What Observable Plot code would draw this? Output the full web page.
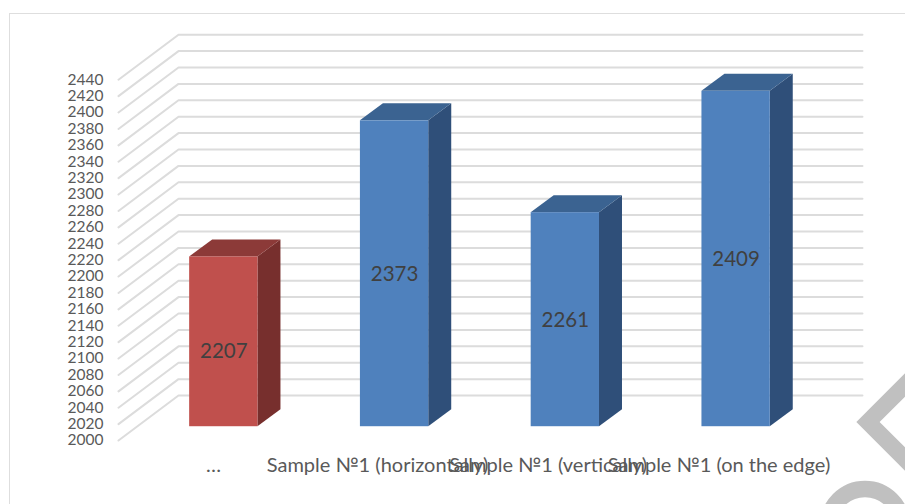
<!DOCTYPE html>
<html>
<head>
<meta charset="utf-8">
<script src="https://cdn.jsdelivr.net/npm/d3@7"></script>
<script src="https://cdn.jsdelivr.net/npm/@observablehq/plot@0.6"></script>
<style>
html,body{margin:0;padding:0;background:#fff;width:905px;height:504px;overflow:hidden}
#wrap{position:relative;width:905px;height:504px;overflow:hidden}
#frame{position:absolute;left:9px;top:13px;width:1000px;height:600px;border:1.5px solid #dedede}
#chart{position:absolute;left:0;top:0}
#chart svg{background:transparent}
#mark{position:absolute;left:0;top:0}
</style>
</head>
<body>
<div id="wrap">
<div id="frame"></div>
<div id="chart"></div>
<svg id="mark" width="905" height="504" fill="none" stroke="#c0c0c0" stroke-width="16.5">
  <polyline points="928,362 868,422 928,482" stroke-linejoin="miter"/>
  <circle cx="865" cy="526" r="37"/>
</svg>
</div>
<script>
const categories = ["…", "Sample №1 (horizontally)", "Sample №1 (vertically)", "Sample №1 (on the edge)"];
const values = [2207, 2373, 2261, 2409];
const barColors = ["#c0504d", "#4f81bd", "#4f81bd", "#4f81bd"];
const sideColors = ["#772f2d", "#2f4f79", "#2f4f79", "#2f4f79"];
const topColors = ["#8c3a38", "#3b6391", "#3b6391", "#3b6391"];
const labelValues = [2093, 2187, 2131, 2205];
const categoryLabelPositions = [-0.06, 0.9, 1.9, 2.9];
const yTicks = [2000,2020,2040,2060,2080,2100,2120,2140,2160,2180,2200,2220,2240,2260,2280,2300,2320,2340,2360,2380,2400,2420,2440];

// 3D box geometry in scale units
const half = 0.2, depthX = 0.1347, depthY = 20.7;
const wallFrontX = -0.6167, wallBackX = -0.2653, wallEndX = 3.74;
const wallFrontDY = -15.9, wallBackDY = 39;
const base = 2000;

const gridData = yTicks.flatMap(v => [
  {v, x: wallFrontX, y: v + wallFrontDY},
  {v, x: wallBackX, y: v + wallBackDY},
  {v, x: wallEndX, y: v + wallBackDY}
]);
const bars = values.map((v, i) => ({i, v, x1: i - half, x2: i + half, fill: barColors[i]}));
const sideData = values.flatMap((v, i) => [
  {i, x: i + half, y1: base, y2: v},
  {i, x: i + half + depthX, y1: base + depthY, y2: v + depthY}
]);
const topData = values.flatMap((v, i) => [
  {i, y: v, x1: i - half, x2: i + half},
  {i, y: v + depthY, x1: i - half + depthX, x2: i + half + depthX}
]);
const labelData = values.map((v, i) => ({i, v, y: labelValues[i]}));

const font = "Lato, 'Open Sans', sans-serif";
const plot = Plot.plot({
  width: 905,
  height: 504,
  marginLeft: 103,
  marginRight: 0,
  marginTop: 0,
  marginBottom: 45,
  style: {fontFamily: font, background: "transparent"},
  x: {domain: [-0.7045, 3.992], axis: null},
  y: {domain: [1961, 2520.7], axis: null},
  marks: [
    Plot.line(gridData, {x: "x", y: "y", z: "v", stroke: "#dcdcdc", strokeWidth: 2}),
    Plot.axisY({anchor: "left", ticks: yTicks, tickSize: 0, tickPadding: 0, dy: 13, label: null,
      tickFormat: d => String(d), fontSize: 15.5, color: "#595959"}),
    Plot.axisX({anchor: "bottom", ticks: categoryLabelPositions, tickSize: 0, tickPadding: 0, dy: -2, label: null,
      tickFormat: d => categories[categoryLabelPositions.indexOf(d)], fontSize: 20, color: "#595959"}),
    Plot.areaY(sideData, {x: "x", y1: "y1", y2: "y2", z: "i", dy: -0.8, fill: d => sideColors[d.i]}),
    Plot.areaX(topData, {y: "y", x1: "x1", x2: "x2", z: "i", dy: -0.8, fill: d => topColors[d.i]}),
    Plot.rect(bars, {x1: "x1", x2: "x2", y1: base, y2: "v", dy: -0.8, fill: "fill"}),
    Plot.text(labelData, {x: "i", y: "y", text: d => String(d.v), fontSize: 20.5, fill: "#404040"})
  ]
});
document.getElementById("chart").appendChild(plot);
</script>
</body>
</html>
